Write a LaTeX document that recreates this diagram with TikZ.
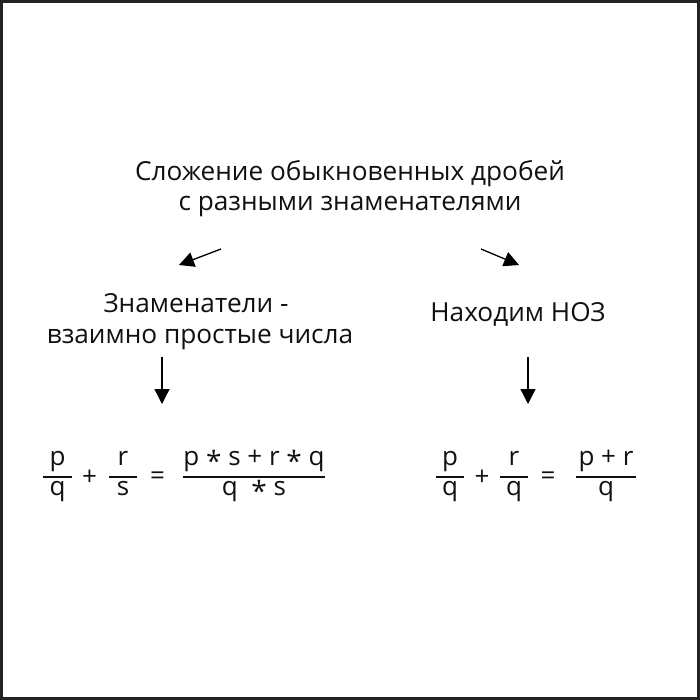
\documentclass[tikz,border=0pt]{standalone}
\usepackage{fontspec}
\setmainfont{Open Sans}
\usetikzlibrary{arrows.meta}
\definecolor{framec}{HTML}{222222}
\definecolor{txt}{HTML}{111111}
\newcommand\mystar{\raisebox{-6.5pt}{\fontsize{28}{28}\selectfont *}}
\begin{document}
\begin{tikzpicture}[x=1pt,y=-1pt,
  lbl/.style={inner sep=0pt,anchor=base,text=txt,font=\fontsize{26.2}{30}\selectfont},
  fr/.style={inner sep=0pt,anchor=base,text=txt,font=\fontsize{26}{30}\selectfont},
  op/.style={inner sep=0pt,anchor=center,text=txt,font=\fontsize{26}{30}\selectfont},
  bar/.style={line width=1.4pt,draw=txt},
  arr/.style={line width=1.3pt,draw=black,-{Triangle[length=15pt,width=15pt]}}]
\useasboundingbox (0,0) rectangle (700,700);
\fill[white] (0,0) rectangle (700,700);
\draw[framec,line width=2.6pt] (1.3,1.3) rectangle (698.7,698.7);
% title
\node[lbl] (t1) at (350,181) {Сложение обыкновенных дробей};
\node[lbl] (t2) at (350,211) {с разными знаменателями};
% arrows from title
\coordinate (la0) at (221,249);
\coordinate (la1) at (179,265);
\coordinate (ra0) at (481,249);
\coordinate (ra1) at (519,265);
\draw[arr] (la0) -- (la1);
\draw[arr] (ra0) -- (ra1);
% middle labels
\node[lbl] (m1) at (196,312) {Знаменатели -};
\node[lbl] (m2) at (200,343) {взаимно простые числа};
\node[lbl] (n1) at (518,321) {Находим НОЗ};
% down arrows
\coordinate (d1a) at (162,357);
\coordinate (d1b) at (162,404);
\coordinate (d2a) at (528,357);
\coordinate (d2b) at (528,404);
\draw[arr] (d1a) -- (d1b);
\draw[arr] (d2a) -- (d2b);
% left formula
\node[fr] (a1) at (57.5,465) {p};
\node[fr] (a2) at (57.5,495) {q};
\draw[bar] (43,477) -- (72,477);
\node[op] (plus1) at (89.5,478) {+};
\node[fr] (b1) at (123,465) {r};
\node[fr] (b2) at (123,495) {s};
\draw[bar] (109,477) -- (137,477);
\node[op] (eq1) at (157.5,478) {=};
\node[fr] (c1) at (254,465) {p \mystar{} s + r \mystar{} q};
\node[fr] (c2) at (254,495) {q\ \ \mystar{} s};
\draw[bar] (183,477) -- (325,477);
% right formula
\node[fr] (e1) at (450,465) {p};
\node[fr] (e2) at (450,495) {q};
\draw[bar] (436,477) -- (464,477);
\node[op] (plus2) at (482,478) {+};
\node[fr] (f1) at (514,465) {r};
\node[fr] (f2) at (514,495) {q};
\draw[bar] (500,477) -- (528,477);
\node[op] (eq2) at (548,478) {=};
\node[fr] (g1) at (606,465) {p + r};
\node[fr] (g2) at (606,495) {q};
\draw[bar] (576,477) -- (636,477);
\end{tikzpicture}
\end{document}
